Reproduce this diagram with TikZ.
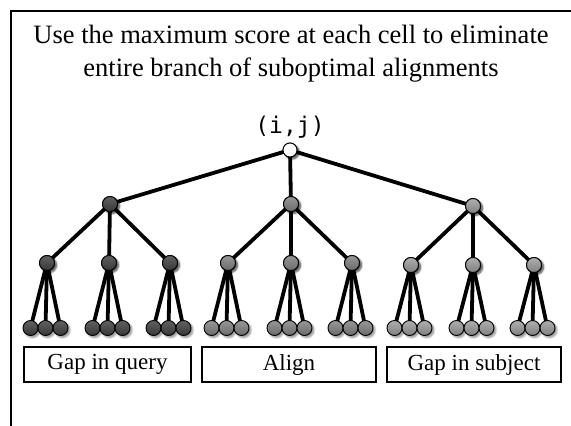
\documentclass[tikz,border=0pt]{standalone}
\usepackage{fontspec}
\setmainfont{Liberation Serif}
\setmonofont{DejaVu Sans Mono}
\usetikzlibrary{shadows.blur}
\definecolor{qcol}{HTML}{454545}
\definecolor{acol}{HTML}{858585}
\definecolor{scol}{HTML}{A0A0A0}
\begin{document}
\begin{tikzpicture}[x=1pt,y=-1pt,
  vtx/.style={circle, draw=black, line width=0.9pt, minimum size=15pt, inner sep=0pt,
    blur shadow={shadow xshift=2pt, shadow yshift=-2pt, shadow blur steps=6, shadow opacity=45}},
  qv/.style={vtx, top color=qcol!85!white, bottom color=qcol!80!black},
  av/.style={vtx, top color=acol!85!white, bottom color=acol!80!black},
  sv/.style={vtx, top color=scol!85!white, bottom color=scol!80!black},
  rv/.style={vtx, fill=white, minimum size=14pt},
  edge/.style={line width=3.8pt, black},
  lab/.style={draw=black, line width=1.1pt, minimum height=35pt, inner sep=0pt, font=\fontsize{23}{25}\selectfont}
]
\useasboundingbox (0,0) rectangle (571,426);
\draw[line width=2.8pt] (11,426) -- (11,11) -- (571,11);
\node[align=center, font=\fontsize{26.5}{33}\selectfont] (title) at (291,54)
  {Use the maximum score at each cell to eliminate\\entire branch of suboptimal alignments};
\node[font=\fontsize{23}{24}\selectfont\ttfamily] (ij) at (290,127) {(i,j)};

% nodes
\node[rv] (r) at (290,150) {};
\node[qv] (q) at (110,204) {};
\node[av] (a) at (291,204) {};
\node[sv] (s) at (473,206) {};
\foreach \n/\x/\y/\st in {q1/47/263/qv,q2/109/263/qv,q3/170/263/qv,
                          a1/228/263/av,a2/291/263/av,a3/352/263/av,
                          s1/411/265/sv,s2/473/265/sv,s3/534/265/sv}{
  \node[\st] (\n) at (\x,\y) {};
}
% edges
\foreach \p/\x in {q1/47,q2/109,q3/170,a1/228,a2/291,a3/352,s1/411,s2/473,s3/534}{
  \foreach \k/\d in {1/-15,2/0,3/15}{
    \draw[edge] (\p.center) -- ({\x-1.5+\d},328) coordinate (\p l\k);
  }
}
\foreach \a/\b in {r/q,r/a,r/s,q/q1,q/q2,q/q3,a/a1,a/a2,a/a3,s/s1,s/s2,s/s3}{
  \draw[edge] (\a.center) -- (\b.center);
}
% redraw nodes on top of edges
\node[rv] at (r) {};
\foreach \n/\st in {q/qv,a/av,s/sv,q1/qv,q2/qv,q3/qv,a1/av,a2/av,a3/av,s1/sv,s2/sv,s3/sv}{
  \node[\st] at (\n) {};
}
\foreach \p/\st in {q1/qv,q2/qv,q3/qv,a1/av,a2/av,a3/av,s1/sv,s2/sv,s3/sv}{
  \foreach \k in {1,2,3}{
    \node[\st] (\p leaf\k) at (\p l\k) {};
  }
}
% labels
\node[lab, minimum width=167pt] (gq) at (107.5,364.5) {Gap in query};
\node[lab, minimum width=174pt] (al) at (289,364.5) {Align};
\node[lab, minimum width=174pt] (gs) at (474,364.5) {Gap in subject};
\end{tikzpicture}
\end{document}
